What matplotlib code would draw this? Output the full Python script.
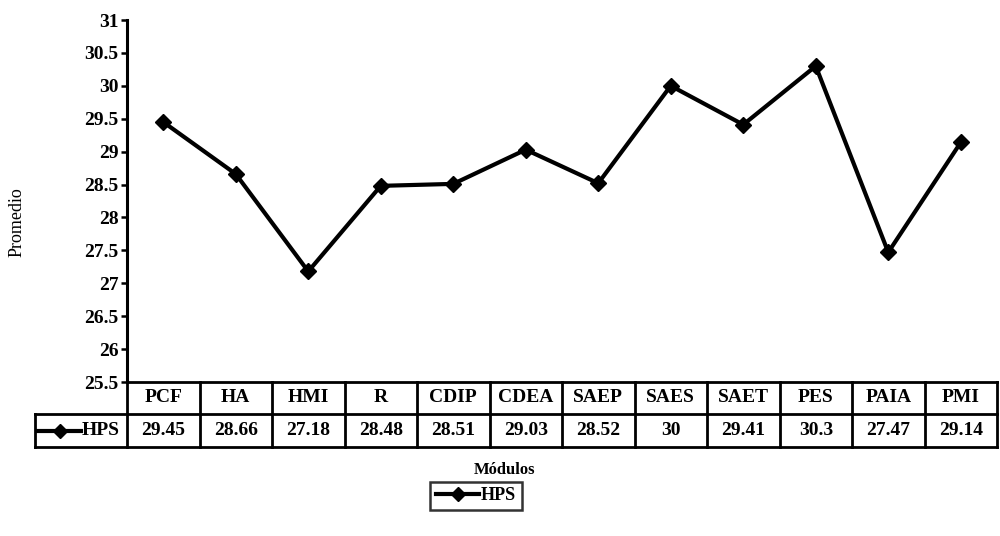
import matplotlib
matplotlib.use("Agg")
import matplotlib.pyplot as plt
from matplotlib.lines import Line2D
import matplotlib.transforms as mtransforms

modulos = ["PCF", "HA", "HMI", "R", "CDIP", "CDEA", "SAEP", "SAES", "SAET", "PES", "PAIA", "PMI"]
hps = [29.45, 28.66, 27.18, 28.48, 28.51, 29.03, 28.52, 30, 29.41, 30.3, 27.47, 29.14]
value_labels = ["29.45", "28.66", "27.18", "28.48", "28.51", "29.03", "28.52", "30", "29.41", "30.3", "27.47", "29.14"]
y_ticks = [25.5, 26, 26.5, 27, 27.5, 28, 28.5, 29, 29.5, 30, 30.5, 31]
y_tick_labels = ["25.5", "26", "26.5", "27", "27.5", "28", "28.5", "29", "29.5", "30", "30.5", "31"]
series_name = "HPS"

plt.rcParams["font.family"] = ["Liberation Serif", "DejaVu Serif"]
plt.rcParams["font.weight"] = "bold"

W, H = 1000, 536
fig = plt.figure(figsize=(W / 100, H / 100), dpi=100)

ax_l, ax_r, ax_t, ax_b = 127, 997, 20, 382
ax = fig.add_axes([ax_l / W, 1 - ax_b / H, (ax_r - ax_l) / W, (ax_b - ax_t) / H])

x = list(range(len(modulos)))
ax.plot(x, hps, color="black", lw=3.0, marker="D", markersize=8,
        markerfacecolor="black", markeredgecolor="black", solid_joinstyle="miter")

ax.set_xlim(-0.5, len(modulos) - 0.5)
ax.set_ylim(25.5, 31)
ax.set_yticks(y_ticks)
ax.set_yticklabels(y_tick_labels, fontsize=14, fontweight="bold")
ax.set_xticks([])
for s in ["top", "right", "bottom"]:
    ax.spines[s].set_visible(False)
ax.spines["left"].set_linewidth(2.2)
ax.tick_params(axis="y", direction="out", length=4, width=1.8, pad=2)

fig.text(17 / W, 1 - 222 / H, "Promedio", rotation=90, ha="center", va="center",
         fontsize=13, fontweight="normal")

# Data table beneath the plot (x in data units, y in axes units)
axes_h = ax_b - ax_t
col_w = (ax_r - ax_l) / len(modulos)
y_hdr_bot = -(414 - ax_b) / axes_h
y_val_bot = -(447 - ax_b) / axes_h
x_label_left = -0.5 - (ax_l - 35) / col_w
tr = mtransforms.blended_transform_factory(ax.transData, ax.transAxes)
lw_tab = 2.0

def hline(x0, x1, y):
    ax.add_line(Line2D([x0, x1], [y, y], color="black", lw=lw_tab, transform=tr, clip_on=False))

def vline(xv, y0, y1):
    ax.add_line(Line2D([xv, xv], [y0, y1], color="black", lw=lw_tab, transform=tr, clip_on=False))

n = len(modulos)
hline(-0.5, n - 0.5, 0)
hline(x_label_left, n - 0.5, y_hdr_bot)
hline(x_label_left, n - 0.5, y_val_bot)
for i in range(n + 1):
    vline(i - 0.5, 0, y_val_bot)
vline(x_label_left, y_hdr_bot, y_val_bot)

y_hdr_mid = y_hdr_bot / 2
y_val_mid = (y_hdr_bot + y_val_bot) / 2
for i, (name, lab) in enumerate(zip(modulos, value_labels)):
    ax.text(i, y_hdr_mid, name, transform=tr, ha="center", va="center",
            fontsize=14, fontweight="bold", clip_on=False)
    ax.text(i, y_val_mid, lab, transform=tr, ha="center", va="center",
            fontsize=14, fontweight="bold", clip_on=False)

# Legend key inside the label cell
key_x0 = x_label_left + 3 / col_w
key_x1 = x_label_left + 46 / col_w
ax.add_line(Line2D([key_x0, key_x1], [y_val_mid, y_val_mid], color="black", lw=3.0,
                   transform=tr, clip_on=False))
ax.add_line(Line2D([(key_x0 + key_x1) / 2], [y_val_mid], color="black", marker="D",
                   markersize=7, linestyle="none", transform=tr, clip_on=False))
ax.text(key_x1 + 1 / col_w, y_val_mid, series_name, transform=tr, ha="left", va="center",
        fontsize=14, fontweight="bold", clip_on=False)

fig.text(505 / W, 1 - 470 / H, "Módulos", ha="center", va="center", fontsize=12, fontweight="bold")

handle = Line2D([], [], color="black", lw=3.0, marker="D", markersize=7)
leg = fig.legend([handle], [series_name], loc="center", bbox_to_anchor=(476 / W, 1 - 496 / H),
                 frameon=True, fancybox=False, edgecolor="black", handlelength=2.4,
                 handletextpad=0.1, borderpad=0.3, prop={"size": 13, "weight": "bold"})
leg.get_frame().set_linewidth(1.8)

fig.savefig("out.png", dpi=100, facecolor="white")
